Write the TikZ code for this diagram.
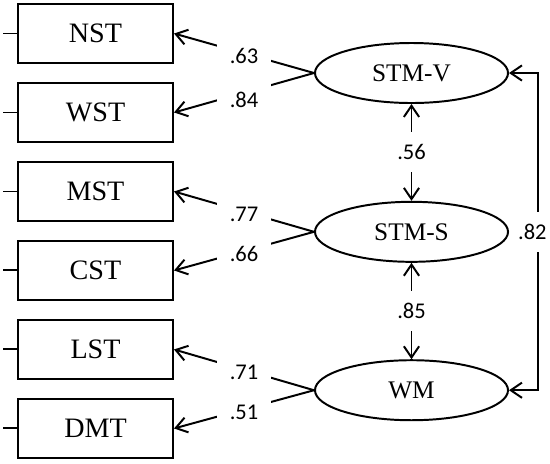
\documentclass[tikz,border=0pt]{standalone}
\usepackage{fontspec}
\setmainfont{Liberation Serif}
\newfontfamily\numfont{Carlito}
\usetikzlibrary{shapes.geometric,arrows.meta,positioning}

\begin{document}
\begin{tikzpicture}[
  x=0.025cm, y=-0.025cm,
  line width=1.4pt,
  obs/.style={draw, rectangle, minimum width=3.875cm, minimum height=1.475cm, font=\fontsize{20}{22}\selectfont},
  lat/.style={draw, ellipse, minimum width=4.825cm, minimum height=1.5cm, font=\fontsize{18}{20}\selectfont},
  lbl/.style={fill=white, inner sep=0pt, font=\numfont\fontsize{16}{17}\selectfont},
  hgap/.style={lbl, minimum width=1.35cm, minimum height=0.8cm, yshift=-2pt},
  vgap/.style={lbl, minimum width=0.7cm, minimum height=1cm},
  arr/.style={-{Straight Barb[length=2.8mm,width=3.8mm]}},
  dbl/.style={{Straight Barb[length=2.8mm,width=3.8mm]}-{Straight Barb[length=2.8mm,width=3.8mm]}}
]
  \useasboundingbox (0,0) rectangle (550,463);

  % observed tests
  \node[obs] (nst) at (95.5,33.5) {NST};
  \node[obs, below=0.45cm of nst] (wst) {WST};
  \node[obs, below=0.45cm of wst] (mst) {MST};
  \node[obs, below=0.45cm of mst] (cst) {CST};
  \node[obs, below=0.45cm of cst] (lst) {LST};
  \node[obs, below=0.45cm of lst] (dmt) {DMT};

  % latent factors
  \node[lat] (stmv) at (411.5,73) {STM-V};
  \node[lat, below=2.42cm of stmv] (stms) {STM-S};
  \node[lat, below=2.41cm of stms] (wm) {WM};

  % error stubs
  \foreach \n in {nst,wst,mst,cst,lst,dmt}
    \draw (\n.west) -- ++(-14,0);

  % loadings
  \draw[arr] (stmv.west) -- node[hgap] {.63} (nst.east);
  \draw[arr] (stmv.west) -- node[hgap, yshift=-3pt] {.84} (wst.east);
  \draw[arr] (stms.west) -- node[hgap] {.77} (mst.east);
  \draw[arr] (stms.west) -- node[hgap] {.66} (cst.east);
  \draw[arr] (wm.west) -- node[hgap] {.71} (lst.east);
  \draw[arr] (wm.west) -- node[hgap] {.51} (dmt.east);

  % correlations
  \draw[dbl] (stmv) -- node[vgap] {.56} (stms);
  \draw[dbl] (stms) -- node[vgap] {.85} (wm);
  \draw[dbl] (stmv.east) -- ++(29,0) |- node[vgap, pos=.25, xshift=-4pt] {.82} (wm.east);
\end{tikzpicture}
\end{document}
